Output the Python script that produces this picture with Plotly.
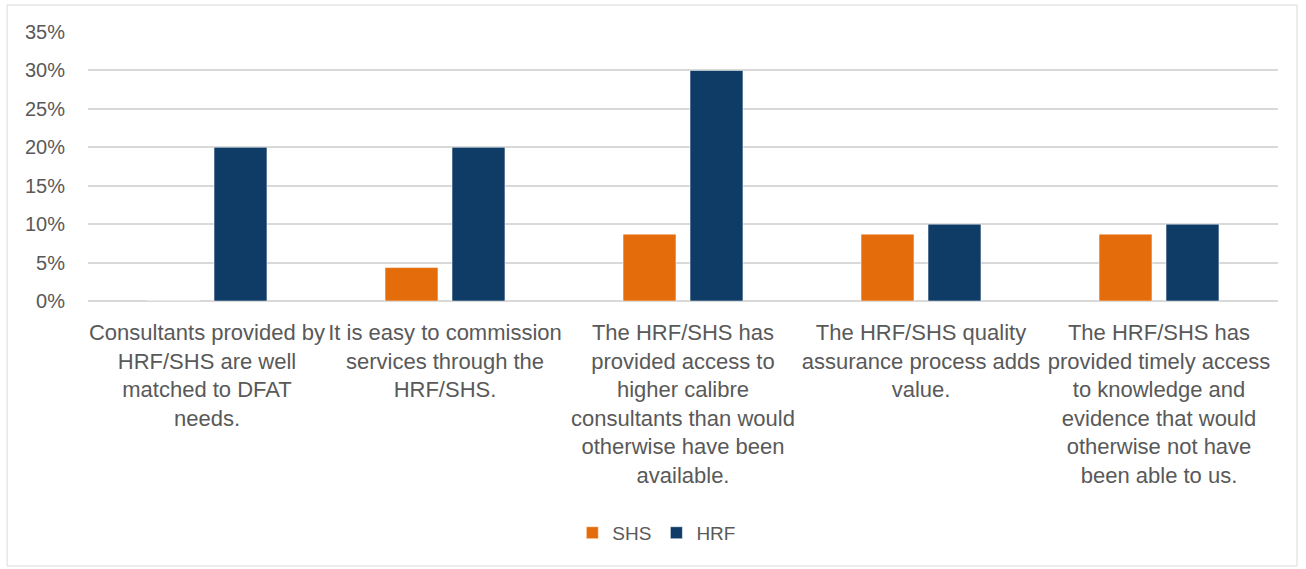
import plotly.graph_objects as go

categories = [
    "Consultants provided by<br>HRF/SHS are well<br>matched to DFAT<br>needs.",
    "It is easy to commission<br>services through the<br>HRF/SHS.",
    "The HRF/SHS has<br>provided access to<br>higher calibre<br>consultants than would<br>otherwise have been<br>available.",
    "The HRF/SHS quality<br>assurance process adds<br>value.",
    "The HRF/SHS has<br>provided timely access<br>to knowledge and<br>evidence that would<br>otherwise not have<br>been able to us.",
]
shs = [0.0, 0.0435, 0.087, 0.087, 0.087]
hrf = [0.20, 0.20, 0.30, 0.10, 0.10]

FONT = "Liberation Sans"
GREY = "#595959"

fig = go.Figure()
fig.add_trace(go.Bar(x=categories, y=shs, name="SHS", marker=dict(color="#E46C0A", line=dict(color="rgba(255,255,255,0.5)", width=1))))
fig.add_trace(go.Bar(x=categories, y=hrf, name="HRF", marker=dict(color="#0E3C66", line=dict(color="rgba(255,255,255,0.5)", width=1))))

fig.update_layout(
    width=1306, height=569,
    margin=dict(l=88, r=28, t=32, b=268),
    paper_bgcolor="white", plot_bgcolor="white",
    barmode="group", bargap=0.437, bargroupgap=0.21,
    font=dict(family=FONT, size=18, color=GREY),
    showlegend=True,
    legend=dict(orientation="h", x=0.478, xanchor="center", y=-0.862, yanchor="middle",
                font=dict(family=FONT, size=19, color=GREY), itemwidth=30, traceorder="normal"),
    xaxis=dict(showgrid=False, showline=False, ticks="", tickfont=dict(family=FONT, size=22, color=GREY),
               tickangle=0, ticklabelstandoff=16),
    yaxis=dict(range=[0, 0.35], dtick=0.05, tickformat=".0%", showgrid=True, gridcolor="#D9D9D9", gridwidth=1.5,
               zeroline=True, zerolinecolor="#D9D9D9", zerolinewidth=1.5, showline=False, ticks="",
               ticklen=0, ticklabelstandoff=22, tickfont=dict(family=FONT, size=20, color=GREY)),
    shapes=[dict(type="rect", xref="paper", yref="paper", x0=-0.068, x1=1.016, y0=-0.985, y1=1.1004,
                 line=dict(color="#D9D9D9", width=1), fillcolor="rgba(0,0,0,0)", layer="below")],
)

fig.write_html("out.html", config={"displayModeBar": False}, post_script="document.body.style.margin='0';")
